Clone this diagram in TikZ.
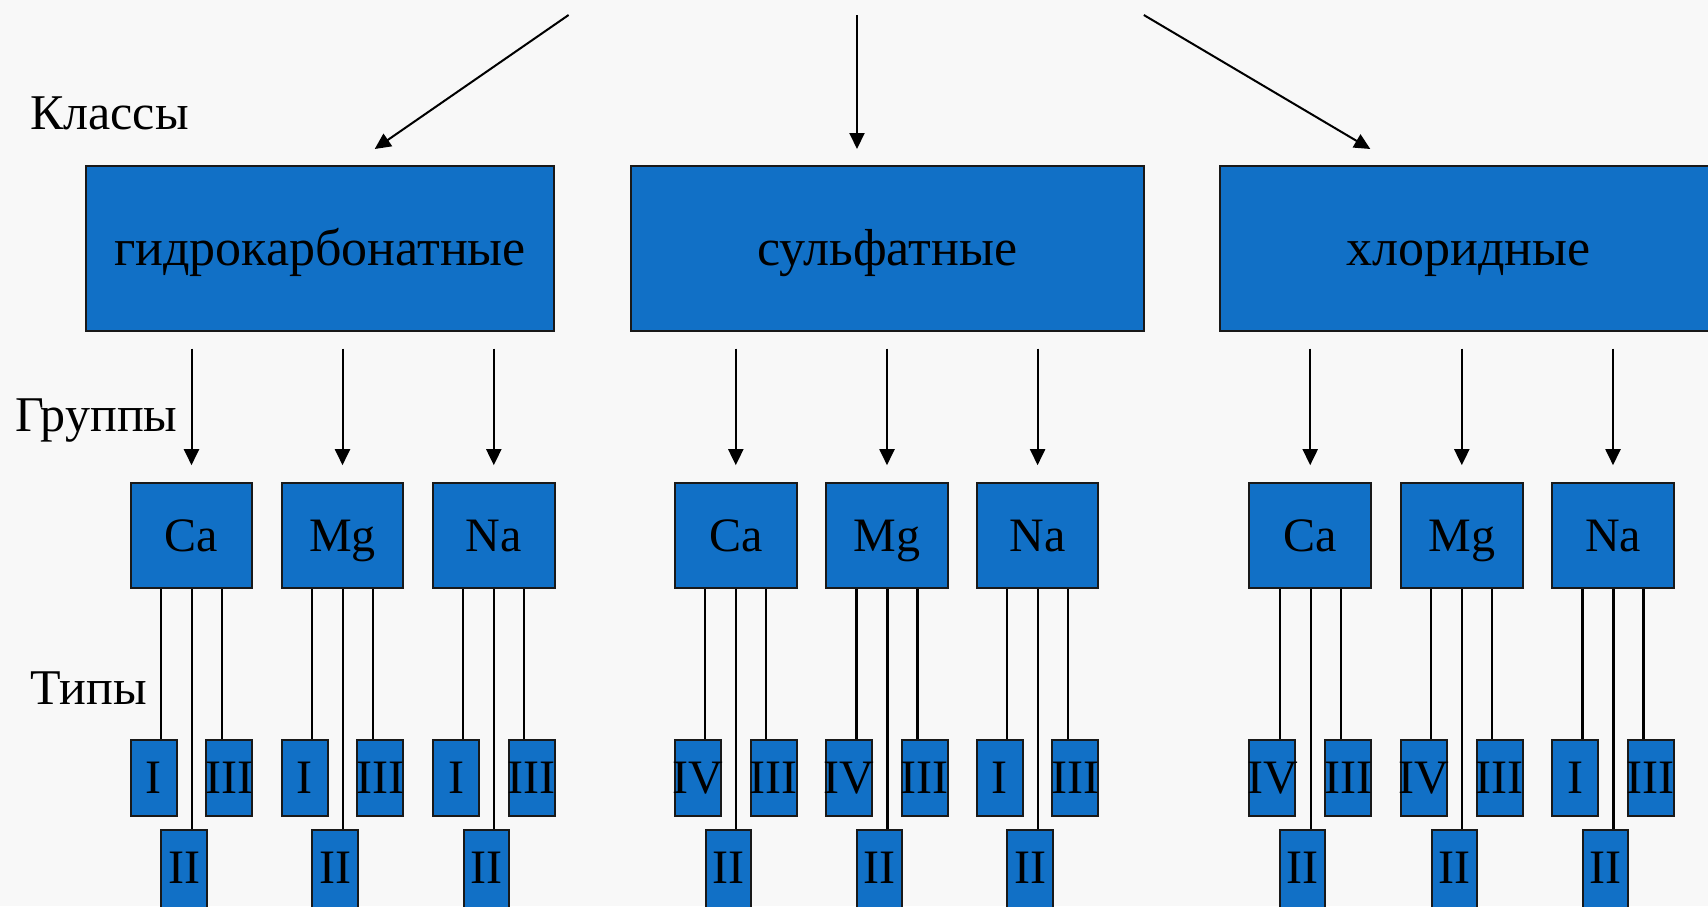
\documentclass[tikz,border=0pt]{standalone}
\usepackage{fontspec}
\setmainfont{Liberation Serif}
\usetikzlibrary{arrows.meta,calc}
\definecolor{boxblue}{RGB}{17,112,198}
\definecolor{bgcol}{RGB}{248,248,248}
\definecolor{edgecol}{RGB}{25,25,25}
\begin{document}
\begin{tikzpicture}[x=1pt,y=-1pt,
  bluebox/.style={draw=edgecol, line width=2pt, fill=boxblue, inner sep=0pt,
    text height=32pt, text depth=0pt, font=\fontsize{48}{56}\selectfont},
  classbox/.style={bluebox, minimum height=165.5pt, text height=33.4pt,
    font=\fontsize{52}{60}\selectfont},
  groupbox/.style={bluebox, minimum width=121.6pt, minimum height=105.6pt},
  typebox/.style={bluebox, minimum width=46pt, minimum height=75.7pt},
  sidelabel/.style={anchor=base west, inner sep=0pt, font=\fontsize{50}{58}\selectfont},
  arr/.style={line width=2pt, -{Triangle[length=16pt,width=15pt]}},
  conn/.style={line width=2.2pt}]
\fill[bgcol] (0,0) rectangle (1708,906);
\clip (0,0) rectangle (1708,906);

% side labels
\node[sidelabel] (lk) at (30,129) {Классы};
\node[sidelabel] (lg) at (15,431) {Группы};
\node[sidelabel] (lt) at (30,704) {Типы};

% class boxes
\node[classbox, minimum width=468pt] (c1) at (320,248.3) {гидрокарбонатные};
\node[classbox, minimum width=513pt] (c2) at (887.2,248.3) {сульфатные};
\node[classbox, minimum width=497pt] (c3) at (1468.5,248.3) {хлоридные};

% top arrows
\coordinate (s1) at (568.6,15);
\coordinate (s2) at (857,15);
\coordinate (s3) at (1143.8,15);
\coordinate (e1) at (374.7,149);
\coordinate (e2) at (857,149);
\coordinate (e3) at (1370.3,149);
\draw[arr] (s1) -- (e1);
\draw[arr] (s2) -- (e2);
\draw[arr] (s3) -- (e3);

% group boxes
\node[groupbox] (g11) at (191.5,535.5) {Ca};
\node[groupbox] (g12) at (342.5,535.5) {Mg};
\node[groupbox] (g13) at (493.8,535.5) {Na};
\node[groupbox] (g21) at (735.8,535.5) {Ca};
\node[groupbox] (g22) at (887,535.5) {Mg};
\node[groupbox] (g23) at (1037.6,535.5) {Na};
\node[groupbox] (g31) at (1310.2,535.5) {Ca};
\node[groupbox] (g32) at (1461.8,535.5) {Mg};
\node[groupbox] (g33) at (1613,535.5) {Na};

\foreach \n/\cl/\lt/\rt in {
  g11/c1/I/III, g12/c1/I/III, g13/c1/I/III,
  g21/c2/IV/III, g22/c2/IV/III, g23/c2/I/III,
  g31/c3/IV/III, g32/c3/IV/III, g33/c3/I/III}{
  % arrow from class box to group
  \draw[arr, shorten <=16.5pt, shorten >=16.5pt] (\n.north |- \cl.south) -- (\n.north);
  % type boxes
  \node[typebox] (\n a) at ($(\n.center)+(-37.8,242.4)$) {\makebox[0pt]{\lt}};
  \node[typebox] (\n c) at ($(\n.center)+(37.8,242.4)$) {\makebox[0pt]{\rt}};
  \node[typebox, minimum width=45.5pt, minimum height=78pt, text height=29pt] (\n b) at ($(\n.center)+(-7.5,333.5)$) {\makebox[0pt]{II}};
  % connectors
  \draw[conn] ([xshift=-30.5pt]\n.south) -- ([xshift=-30.5pt]\n.south |- \n a.north);
  \draw[conn] ([xshift=0.5pt]\n.south) -- ([xshift=0.5pt]\n.south |- \n b.north);
  \draw[conn] ([xshift=30.5pt]\n.south) -- ([xshift=30.5pt]\n.south |- \n c.north);
}
\end{tikzpicture}
\end{document}
